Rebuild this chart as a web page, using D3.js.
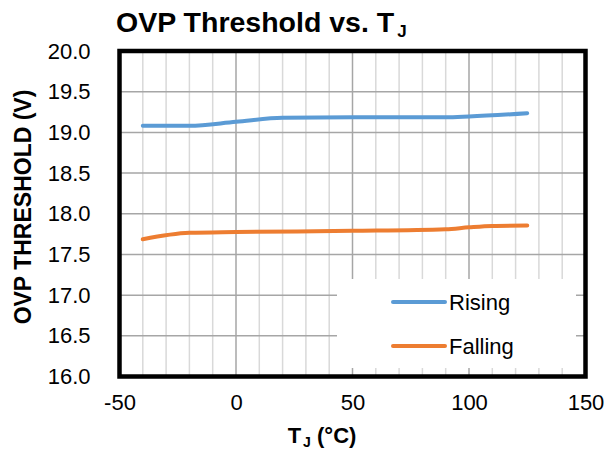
<!DOCTYPE html>
<html>
<head>
<meta charset="utf-8">
<script src="https://cdn.jsdelivr.net/npm/d3@7"></script>
<style>
  html, body { margin: 0; padding: 0; background: #fff; }
  svg { display: block; font-family: "Liberation Sans", Arial, sans-serif; }
</style>
</head>
<body>
<svg id="chart" width="605" height="453"></svg>
<script>
// ---- data ----
const risingTemps = [-40, -20, 0, 20, 50, 90, 100, 125];
const risingValues = [19.08, 19.08, 19.13, 19.18, 19.185, 19.185, 19.195, 19.235];
const fallingTemps = [-40, -20, 0, 50, 90, 100, 110, 125];
const fallingValues = [17.686, 17.765, 17.775, 17.79, 17.81, 17.833, 17.85, 17.855];
const xTicks = [-50, 0, 50, 100, 150];
const yTicks = [16.0, 16.5, 17.0, 17.5, 18.0, 18.5, 19.0, 19.5, 20.0];
const xMinorGrid = [-40, -30, -20, -10, 10, 20, 30, 40, 60, 70, 80, 90, 110, 120, 130, 140];
const xMajorGrid = [0, 50, 100];
const seriesNames = ["Rising", "Falling"];
const seriesColors = ["#5b9bd5", "#ed7d31"];

// ---- layout ----
const L = 119.5, R = 585.5, T = 51, B = 376.5;
const svg = d3.select("#chart");
const x = d3.scaleLinear().domain([-50, 150]).range([L, R]);
const y = d3.scaleLinear().domain([16, 20]).range([B, T]);

// gridlines
const g = svg.append("g");
g.selectAll(".vmin").data(xMinorGrid).join("line")
  .attr("x1", d => x(d)).attr("x2", d => x(d)).attr("y1", T).attr("y2", B)
  .attr("stroke", "#d9d9d9").attr("stroke-width", 1.5);
g.selectAll(".vmaj").data(xMajorGrid).join("line")
  .attr("x1", d => x(d)).attr("x2", d => x(d)).attr("y1", T).attr("y2", B)
  .attr("stroke", "#a6a6a6").attr("stroke-width", 1.5);
g.selectAll(".h").data(yTicks.slice(1, -1)).join("line")
  .attr("x1", L).attr("x2", R).attr("y1", d => y(d)).attr("y2", d => y(d))
  .attr("stroke", "#a6a6a6").attr("stroke-width", 1.5);

// legend background (covers gridlines)
svg.append("rect").attr("x", 337).attr("y", 279).attr("width", 239).attr("height", 89).attr("fill", "#fff");

// series
const line = d3.line().x(d => x(d[0])).y(d => y(d[1])).curve(d3.curveMonotoneX);
const series = [
  d3.zip(risingTemps, risingValues),
  d3.zip(fallingTemps, fallingValues)
];
series.forEach((s, i) => {
  svg.append("path").datum(s).attr("d", line)
    .attr("fill", "none").attr("stroke", seriesColors[i])
    .attr("stroke-width", 4).attr("stroke-linecap", "round");
});

// border
svg.append("rect").attr("x", L).attr("y", T).attr("width", R - L).attr("height", B - T)
  .attr("fill", "none").attr("stroke", "#000").attr("stroke-width", 4.5);

// axes
const yAxis = svg.append("g").attr("transform", `translate(${L},0)`)
  .call(d3.axisLeft(y).tickValues(yTicks).tickSize(0).tickPadding(29).tickFormat(d3.format(".1f")));
yAxis.select(".domain").remove();
yAxis.selectAll("text").attr("font-size", 22).attr("font-family", "Liberation Sans, Arial, sans-serif").attr("fill", "#000");

const xAxis = svg.append("g").attr("transform", `translate(0,${B})`)
  .call(d3.axisBottom(x).tickValues(xTicks).tickSize(0).tickPadding(18).tickFormat(d => String(d)));
xAxis.select(".domain").remove();
xAxis.selectAll("text").attr("font-size", 22).attr("font-family", "Liberation Sans, Arial, sans-serif").attr("fill", "#000");

// legend
seriesNames.forEach((name, i) => {
  const ly = 302 + i * 44;
  svg.append("line").attr("x1", 393).attr("x2", 445).attr("y1", ly).attr("y2", ly)
    .attr("stroke", seriesColors[i]).attr("stroke-width", 4).attr("stroke-linecap", "round");
  svg.append("text").attr("x", 449).attr("y", ly + 8).attr("font-size", 22).text(name);
});

// title
const title = svg.append("text").attr("x", 116).attr("y", 32)
  .attr("font-size", 28.5).attr("font-weight", "bold");
title.append("tspan").text("OVP Threshold vs. T");
title.append("tspan").attr("font-size", 17).attr("dy", 5).attr("dx", 3).text("J");

// x axis title
const xt = svg.append("text").attr("x", 322).attr("y", 443).attr("text-anchor", "middle")
  .attr("font-size", 22).attr("font-weight", "bold");
xt.append("tspan").text("T");
xt.append("tspan").attr("font-size", 14).attr("dy", 4).attr("dx", 2).text("J");
xt.append("tspan").attr("dy", -4).text(" (°C)");

// y axis title
svg.append("text").attr("transform", "translate(31,207) rotate(-90)")
  .attr("text-anchor", "middle").attr("font-size", 23).attr("font-weight", "bold")
  .text("OVP THRESHOLD (V)");
</script>
</body>
</html>
